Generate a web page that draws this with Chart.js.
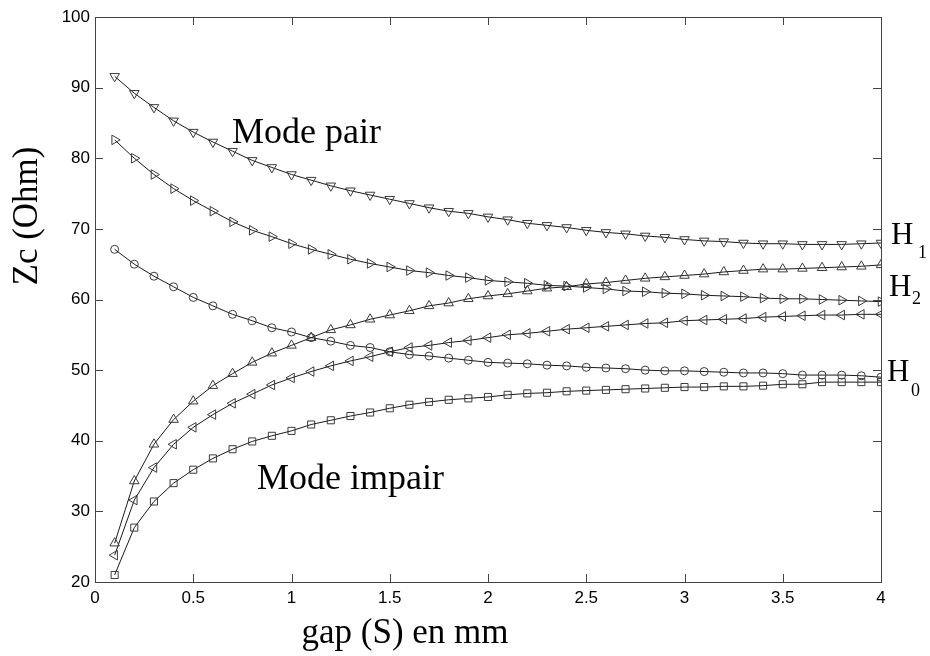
<!DOCTYPE html>
<html>
<head>
<meta charset="utf-8">
<script src="https://cdn.jsdelivr.net/npm/chart.js@4"></script>
<style>
  html, body { margin: 0; padding: 0; background: #fff; }
  #wrap { width: 930px; height: 656px; }
</style>
</head>
<body>
<div id="wrap"><canvas id="zc"></canvas></div>
<script>
const gap = [0.1, 0.2, 0.3, 0.4, 0.5, 0.6, 0.7, 0.8, 0.9, 1.0,
  1.1, 1.2, 1.3, 1.4, 1.5, 1.6, 1.7, 1.8, 1.9, 2.0,
  2.1, 2.2, 2.3, 2.4, 2.5, 2.6, 2.7, 2.8, 2.9, 3.0,
  3.1, 3.2, 3.3, 3.4, 3.5, 3.6, 3.7, 3.8, 3.9, 4.0]

// mode pair
const h1Pair = [91.6, 89.2, 87.2, 85.3, 83.7, 82.3, 81.0, 79.7, 78.7, 77.7,
  76.9, 76.1, 75.4, 74.8, 74.2, 73.6, 73.0, 72.5, 72.2, 71.7,
  71.3, 70.8, 70.5, 70.2, 69.8, 69.5, 69.3, 69.0, 68.8, 68.5,
  68.3, 68.2, 68.0, 67.9, 67.9, 67.8, 67.8, 67.8, 67.9, 68.0]
const h2Pair = [82.6, 80.0, 77.7, 75.7, 74.0, 72.5, 71.0, 69.8, 68.9, 67.9,
  67.1, 66.4, 65.7, 65.1, 64.6, 64.1, 63.8, 63.4, 63.1, 62.7,
  62.5, 62.3, 62.0, 61.9, 61.7, 61.5, 61.2, 61.1, 60.9, 60.8,
  60.6, 60.5, 60.4, 60.2, 60.1, 60.1, 60.0, 59.9, 59.8, 59.7]
const h0Pair = [67.1, 65.0, 63.3, 61.8, 60.3, 59.1, 57.9, 57.0, 56.0, 55.4,
  54.6, 54.1, 53.5, 53.2, 52.6, 52.2, 52.0, 51.7, 51.4, 51.1,
  51.0, 50.9, 50.7, 50.6, 50.4, 50.3, 50.2, 50.0, 49.9, 49.9,
  49.8, 49.7, 49.6, 49.6, 49.5, 49.3, 49.3, 49.3, 49.2, 49.0]

// mode impair
const h1Impair = [25.5, 34.3, 39.5, 43.0, 45.6, 47.8, 49.5, 51.1, 52.4, 53.5,
  54.6, 55.7, 56.4, 57.2, 57.8, 58.4, 59.1, 59.5, 60.1, 60.5,
  60.8, 61.2, 61.6, 61.8, 62.2, 62.4, 62.7, 63.0, 63.2, 63.4,
  63.6, 63.9, 64.1, 64.3, 64.3, 64.4, 64.5, 64.6, 64.7, 64.9]
const h2Impair = [23.8, 31.6, 36.2, 39.5, 41.9, 43.7, 45.3, 46.6, 47.9, 48.9,
  49.8, 50.6, 51.3, 51.9, 52.6, 53.2, 53.5, 53.9, 54.2, 54.6,
  55.0, 55.2, 55.5, 55.8, 56.0, 56.2, 56.4, 56.6, 56.7, 57.0,
  57.1, 57.2, 57.3, 57.5, 57.6, 57.7, 57.8, 57.8, 57.9, 57.9]
const h0Impair = [21.0, 27.7, 31.4, 34.0, 35.9, 37.5, 38.8, 39.9, 40.7, 41.4,
  42.3, 42.9, 43.5, 44.0, 44.6, 45.1, 45.5, 45.8, 46.0, 46.2,
  46.5, 46.7, 46.8, 47.0, 47.1, 47.2, 47.3, 47.4, 47.5, 47.6,
  47.6, 47.7, 47.7, 47.8, 48.0, 48.0, 48.3, 48.3, 48.3, 48.3]

const xTicks = [0, 0.5, 1, 1.5, 2, 2.5, 3, 3.5, 4]
const yTicks = [20, 30, 40, 50, 60, 70, 80, 90, 100]

const serif = '"Liberation Serif", "Times New Roman", serif'
const sans = '"Liberation Sans", Arial, sans-serif'

const series = (values, style, rot, radius) => ({
  data: gap.map((g, i) => ({x: g, y: values[i]})),
  borderColor: '#1a1a1a',
  borderWidth: 1,
  pointStyle: style,
  rotation: rot,
  pointRadius: radius,
  pointBorderColor: '#3a3a3a',
  pointBorderWidth: 1,
  pointBackgroundColor: 'rgba(0,0,0,0)',
  tension: 0,
})

// inner ticks on all four sides, box frame, axis titles and labels
const frame = {
  id: 'frame',
  afterDraw(chart) {
    const {ctx, chartArea: a, scales: {x, y}} = chart
    ctx.save()
    ctx.strokeStyle = '#444'
    ctx.lineWidth = 1
    ctx.strokeRect(a.left + 0.5, a.top + 0.5, a.right - a.left, a.bottom - a.top)
    ctx.beginPath()
    xTicks.forEach(t => {
      const px = Math.round(x.getPixelForValue(t)) + 0.5
      ctx.moveTo(px, a.bottom); ctx.lineTo(px, a.bottom - 8)
      ctx.moveTo(px, a.top); ctx.lineTo(px, a.top + 8)
    })
    yTicks.forEach(t => {
      const py = Math.round(y.getPixelForValue(t)) + 0.5
      ctx.moveTo(a.left, py); ctx.lineTo(a.left + 8, py)
      ctx.moveTo(a.right, py); ctx.lineTo(a.right - 8, py)
    })
    ctx.stroke()

    ctx.fillStyle = '#000'
    ctx.textBaseline = 'alphabetic'
    ctx.textAlign = 'left'
    ctx.font = '36px ' + serif
    ctx.fillText('Mode pair', 232, 143)
    ctx.fillText('Mode impair', 257, 489)

    ctx.font = '31px ' + serif
    ctx.fillText('H', 891, 244)
    ctx.fillText('H', 889, 296)
    ctx.fillText('H', 887, 381)
    ctx.font = '18px ' + serif
    ctx.fillText('1', 918, 258)
    ctx.fillText('2', 912, 304)
    ctx.fillText('0', 911, 396)

    ctx.font = '35px ' + serif
    ctx.textAlign = 'center'
    ctx.fillText('gap (S) en mm', 405, 643)
    ctx.translate(28, 216)
    ctx.rotate(-Math.PI / 2)
    ctx.textBaseline = 'middle'
    ctx.fillText('Zc (Ohm)', 0, 0)
    ctx.restore()
  }
}

new Chart(document.getElementById('zc'), {
  type: 'line',
  data: {
    datasets: [
      series(h1Pair, 'triangle', 180, 5.5),
      series(h2Pair, 'triangle', 90, 5.5),
      series(h0Pair, 'circle', 0, 4),
      series(h1Impair, 'triangle', 0, 5.5),
      series(h2Impair, 'triangle', 270, 5.5),
      series(h0Impair, 'rect', 0, 5),
    ],
  },
  options: {
    responsive: true,
    maintainAspectRatio: false,
    animation: false,
    layout: {padding: {left: 0, right: 49, top: 17, bottom: 0}},
    plugins: {legend: {display: false}, tooltip: {enabled: false}},
    scales: {
      x: {
        type: 'linear',
        min: 0,
        max: 4,
        afterBuildTicks: s => { s.ticks = xTicks.map(v => ({value: v})) },
        afterFit: s => { s.height = 74 },
        grid: {display: false, drawTicks: false},
        border: {display: false},
        ticks: {
          padding: 6,
          color: '#000',
          font: {family: sans, size: 17},
          callback: v => String(v),
        },
      },
      y: {
        min: 20,
        max: 100,
        afterBuildTicks: s => { s.ticks = yTicks.map(v => ({value: v})) },
        afterFit: s => { s.width = 95 },
        grid: {display: false, drawTicks: false},
        border: {display: false},
        ticks: {
          padding: 5,
          color: '#000',
          font: {family: sans, size: 17},
          callback: v => String(v),
        },
      },
    },
  },
  plugins: [frame],
})
</script>
</body>
</html>
